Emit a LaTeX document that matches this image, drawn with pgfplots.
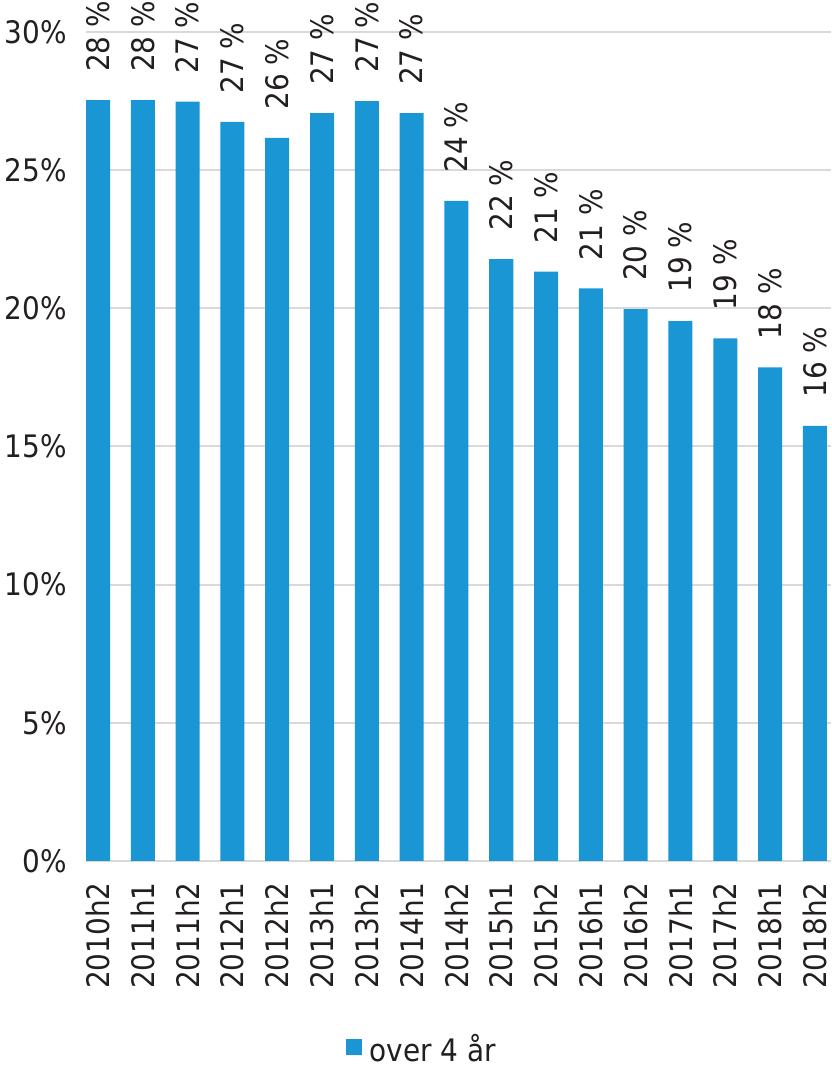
\documentclass[border=0pt]{standalone}
\usepackage{pgfplots}
\pgfplotsset{compat=1.18}
\usepackage{pgfplotstable}
\usepackage{fontspec}
\setmainfont{DejaVu Sans Condensed}
\definecolor{barblue}{HTML}{1A96D4}
\definecolor{gridgray}{HTML}{D9D9D9}
\definecolor{txt}{HTML}{231F20}
\pgfplotstableread{
x y lab
0 27.53 28
1 27.53 28
2 27.48 27
3 26.75 27
4 26.17 26
5 27.06 27
6 27.50 27
7 27.06 27
8 23.89 24
9 21.78 22
10 21.33 21
11 20.72 21
12 19.97 20
13 19.54 19
14 18.91 19
15 17.86 18
16 15.75 16
}\data
\begin{document}
\begin{tikzpicture}
\begin{axis}[
  name=ax,
  scale only axis,
  width=372.5pt, height=414.5pt,
  xmin=-0.268, xmax=16.36,
  ymin=0, ymax=30,
  ytick={0,5,10,15,20,25,30},
  yticklabel={\pgfmathprintnumber{\tick}\%},
  /pgf/number format/assume math mode=true,
  xtick={0,...,16},
  xticklabels={2010h2,2011h1,2011h2,2012h1,2012h2,2013h1,2013h2,2014h1,2014h2,2015h1,2015h2,2016h1,2016h2,2017h1,2017h2,2018h1,2018h2},
  x tick label style={rotate=90, anchor=east, inner sep=0pt, font=\fontsize{15.5}{18}\selectfont, text=txt},
  xticklabel shift=10.5pt,
  y tick label style={anchor=east, inner sep=0pt, font=\fontsize{15.5}{18}\selectfont, text=txt},
  yticklabel shift=9.5pt,
  major tick length=0pt,
  axis line style={draw=none},
  ymajorgrids,
  grid style={gridgray, line width=1pt},
  clip=false,
  legend style={draw=none, inner sep=0pt, at={(0.452,0)}, anchor=center, yshift=-94pt, font=\fontsize{15.5}{18}\selectfont, text=txt, /tikz/every even column/.append style={column sep=0pt}},
  legend image code/.code={\fill[barblue] (0pt,-3pt) rectangle (8pt,5pt);},
]
\addplot[ybar, bar width=0.536, fill=barblue, draw=none,
  point meta=explicit symbolic,
  nodes near coords={\pgfplotspointmeta\ \%},
  every node near coord/.style={rotate=90, anchor=west, inner ysep=0pt, inner xsep=14pt, font=\fontsize{15.5}{18}\selectfont, text=txt},
] table[x=x, y=y, meta=lab] {\data};
\addlegendentry{\hspace{2pt}over 4 år}
\end{axis}
\pgfresetboundingbox
\path ([xshift=-43pt, yshift=-102.5pt]ax.south west) rectangle ([yshift=16pt]ax.north east);
\end{tikzpicture}
\end{document}
